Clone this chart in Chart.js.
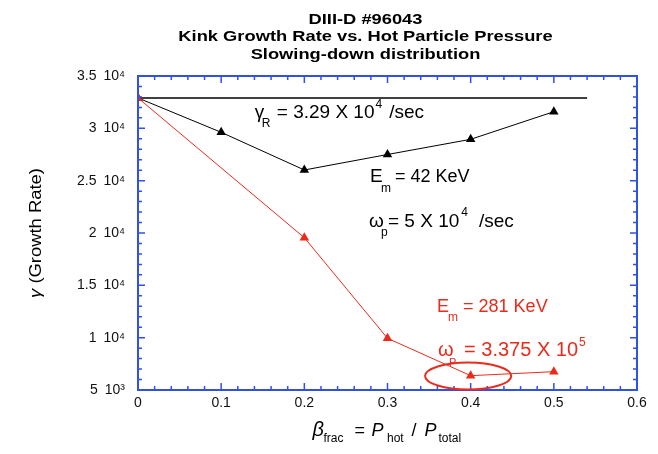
<!DOCTYPE html>
<html>
<head>
<meta charset="utf-8">
<script src="https://cdn.jsdelivr.net/npm/chart.js@4.4.1/dist/chart.umd.min.js"></script>
<style>
  html, body { margin: 0; padding: 0; background: #ffffff; }
  #wrap { width: 658px; height: 454px; }
</style>
</head>
<body>
<div id="wrap"><canvas id="c" width="658" height="454"></canvas></div>
<script>
// ---- data ----
const betaFrac = [0, 0.1, 0.2, 0.3, 0.4, 0.5];            // x of black series (Em = 42 KeV)
const growth42keV = [32900, 29620, 26020, 27500, 28950, 31590];
const betaFracHot = [0, 0.2, 0.3, 0.4, 0.5];               // x of red series (Em = 281 KeV)
const growth281keV = [32900, 19550, 9940, 6370, 6750];
const gammaR = 32900;                                      // reference growth rate 3.29e4 /sec
const gammaRLineX = [0, 0.54];
const xTickLabels = ['0', '0.1', '0.2', '0.3', '0.4', '0.5', '0.6'];
const yTickLabels = ['5\u200210\u00B3', '1\u200210\u2074', '1.5\u200210\u2074', '2\u200210\u2074', '2.5\u200210\u2074', '3\u200210\u2074', '3.5\u200210\u2074'];
const titleLines = ['DIII-D #96043', 'Kink Growth Rate vs. Hot Particle Pressure', 'Slowing-down distribution'];

const FONT = '"Liberation Sans", Arial, Helvetica, sans-serif';
const BLUE = '#3050e6';
const RED = '#ea2b1c';

// draws a run of text pieces; a piece with dx is placed at anchor+dx,
// otherwise right after the previous piece (+gap)
function rich(ctx, x, y, segs, color) {
  ctx.save();
  ctx.fillStyle = color;
  ctx.textBaseline = 'alphabetic';
  ctx.textAlign = 'left';
  let end = x;
  segs.forEach(s => {
    ctx.font = (s.style || '') + ' ' + s.size + 'px ' + FONT;
    const px = (s.dx !== undefined) ? x + s.dx : end + (s.gap || 0);
    ctx.fillText(s.t, px, y + (s.dy || 0));
    end = px + ctx.measureText(s.t).width;
  });
  ctx.restore();
}

// annotations anchored in data coordinates
const annotations = [
  { x: 0.1404, y: 30987, color: '#000', segs: [
    { t: '\u03B3', dx: 0, size: 19 }, { t: 'R', dx: 7, dy: 9, size: 12 },
    { t: '= 3.29 X 10', dx: 22, size: 19 }, { t: '4', gap: 1, dy: -10, size: 12 },
    { t: '/sec', gap: 7, size: 19 } ] },
  { x: 0.2789, y: 24873, color: '#000', segs: [
    { t: 'E', dx: 0, size: 19 }, { t: 'm', dx: 11, dy: 10, size: 12 },
    { t: '= 42 KeV', dx: 25, size: 18 } ] },
  { x: 0.2777, y: 20573, color: '#000', segs: [
    { t: '\u03C9', dx: 0, size: 19 }, { t: 'p', dx: 12, dy: 9, size: 12 },
    { t: '= 5 X 10', dx: 19, size: 19 }, { t: '4', gap: 2, dy: -11, size: 12 },
    { t: '/sec', gap: 11, size: 19 } ] },
  { x: 0.3596, y: 12453, color: RED, segs: [
    { t: 'E', dx: 0, size: 18 }, { t: 'm', dx: 11, dy: 9, size: 12 },
    { t: '= 281 KeV', dx: 26, size: 18 } ] },
  { x: 0.3608, y: 8249, color: RED, segs: [
    { t: '\u03C9', dx: 0, size: 20 }, { t: 'P', dx: 11, dy: 10, size: 11 },
    { t: '= 3.375 X 10', dx: 26, size: 20 }, { t: '5', gap: 1, dy: -10, size: 12 } ] }
];
const highlight = { x: 0.397, y: 6340, rx: 0.0518, ry: 1290 };

const decor = {
  id: 'decor',
  afterDraw(chart) {
    const ctx = chart.ctx;
    const a = chart.chartArea;
    const xs = chart.scales.x, ys = chart.scales.y;
    ctx.save();
    // ---- title (3 bold lines) ----
    ctx.fillStyle = '#000';
    ctx.textAlign = 'center';
    ctx.textBaseline = 'alphabetic';
    ctx.font = 'bold 15px ' + FONT;
    const tb = [23.5, 41, 58.5];
    titleLines.forEach((t, i) => {
      ctx.save();
      ctx.translate(365.5, tb[i]);
      ctx.scale(1.22, 1);
      ctx.fillText(t, 0, 0);
      ctx.restore();
    });

    // ---- frame and inward ticks ----
    ctx.strokeStyle = BLUE;
    ctx.lineWidth = 2;
    ctx.strokeRect(a.left, a.top, a.right - a.left, a.bottom - a.top);
    ctx.lineWidth = 1.5;
    ctx.beginPath();
    xs.ticks.forEach(tk => {
      const px = xs.getPixelForValue(tk.value);
      const major = Math.round(tk.value * 50) % 5 === 0;
      const L = major ? 7 : 4;
      ctx.moveTo(px, a.bottom); ctx.lineTo(px, a.bottom - L);
      ctx.moveTo(px, a.top); ctx.lineTo(px, a.top + L);
    });
    ys.ticks.forEach(tk => {
      const py = ys.getPixelForValue(tk.value);
      const major = Math.round(tk.value / 1000) % 5 === 0;
      const L = major ? 7 : 4;
      ctx.moveTo(a.left, py); ctx.lineTo(a.left + L, py);
      ctx.moveTo(a.right, py); ctx.lineTo(a.right - L, py);
    });
    ctx.stroke();

    // ---- highlight ellipse ----
    const cx = xs.getPixelForValue(highlight.x), cy = ys.getPixelForValue(highlight.y);
    const rx = xs.getPixelForValue(highlight.x + highlight.rx) - cx;
    const ry = cy - ys.getPixelForValue(highlight.y + highlight.ry);
    ctx.strokeStyle = RED;
    ctx.lineWidth = 2;
    ctx.beginPath();
    ctx.ellipse(cx, cy, rx, ry, 0, 0, Math.PI * 2);
    ctx.stroke();

    // ---- annotations ----
    annotations.forEach(an => {
      rich(ctx, xs.getPixelForValue(an.x), ys.getPixelForValue(an.y), an.segs, an.color);
    });

    // ---- x axis title: beta_frac = P_hot / P_total ----
    const mx = (a.left + a.right) / 2;
    rich(ctx, mx, 436, [
      { t: '\u03B2', dx: -75, size: 20, style: 'italic' },
      { t: 'frac', dx: -64, dy: 6, size: 12 },
      { t: '=', dx: -33, size: 18 },
      { t: 'P', dx: -16, size: 18, style: 'italic' },
      { t: 'hot', dx: -0.5, dy: 6, size: 12 },
      { t: '/', dx: 24, size: 18 },
      { t: 'P', dx: 37, size: 18, style: 'italic' },
      { t: 'total', dx: 51, dy: 6, size: 12 }
    ], '#000');

    // ---- y axis title ----
    ctx.save();
    ctx.translate(41, (a.top + a.bottom) / 2);
    ctx.rotate(-Math.PI / 2);
    ctx.scale(1.15, 1);
    ctx.fillStyle = '#000';
    ctx.textBaseline = 'alphabetic';
    ctx.font = '16px ' + FONT;
    const w1 = ctx.measureText('(Growth Rate)').width;
    ctx.font = 'italic 16px ' + FONT;
    const w0 = ctx.measureText('\u03B3 ').width;
    const start = -(w0 + w1) / 2;
    ctx.textAlign = 'left';
    ctx.fillText('\u03B3 ', start, 0);
    ctx.font = '16px ' + FONT;
    ctx.fillText('(Growth Rate)', start + w0, 0);
    ctx.restore();

    ctx.restore();
  }
};

const toPts = (xa, ya) => xa.map((x, i) => ({ x: x, y: ya[i] }));

new Chart(document.getElementById('c'), {
  type: 'line',
  data: {
    datasets: [
      { label: 'Em = 281 KeV', data: toPts(betaFracHot, growth281keV), order: 0,
        borderColor: RED, backgroundColor: RED, borderWidth: 1,
        pointStyle: 'triangle', pointRadius: 5.5, pointBorderWidth: 0, tension: 0 },
      { label: 'Em = 42 KeV', data: toPts(betaFrac, growth42keV), order: 1,
        borderColor: '#000', backgroundColor: '#000', borderWidth: 1,
        pointStyle: 'triangle', pointRadius: 5.5, pointBorderWidth: 0, tension: 0 },
      { label: 'gamma R', data: toPts(gammaRLineX, [gammaR, gammaR]), order: 2,
        borderColor: '#000', borderWidth: 1.3, pointRadius: 0, tension: 0 }
    ]
  },
  options: {
    responsive: false,
    animation: false,
    devicePixelRatio: 1,
    layout: { padding: { top: 76, right: 21, left: 0, bottom: 0 } },
    plugins: { legend: { display: false }, tooltip: { enabled: false }, title: { display: false } },
    scales: {
      x: {
        type: 'linear', min: 0, max: 0.6,
        grid: { display: false, drawTicks: false },
        border: { display: false },
        afterFit(s) { s.height = 64; },
        ticks: {
          stepSize: 0.02, autoSkip: false, maxRotation: 0, padding: 5,
          color: '#111', font: { family: FONT, size: 14 },
          callback(v) { const k = Math.round(v * 50); return k % 5 === 0 ? xTickLabels[k / 5] : ''; }
        }
      },
      y: {
        type: 'linear', min: 5000, max: 35000,
        grid: { display: false, drawTicks: false },
        border: { display: false },
        afterFit(s) { s.width = 138; },
        ticks: {
          stepSize: 1000, autoSkip: false, padding: 13,
          color: '#111', font: { family: FONT, size: 14 },
          callback(v) { const k = Math.round(v / 1000); return k % 5 === 0 ? yTickLabels[(k - 5) / 5] : ''; }
        }
      }
    }
  },
  plugins: [decor]
});
</script>
</body>
</html>
